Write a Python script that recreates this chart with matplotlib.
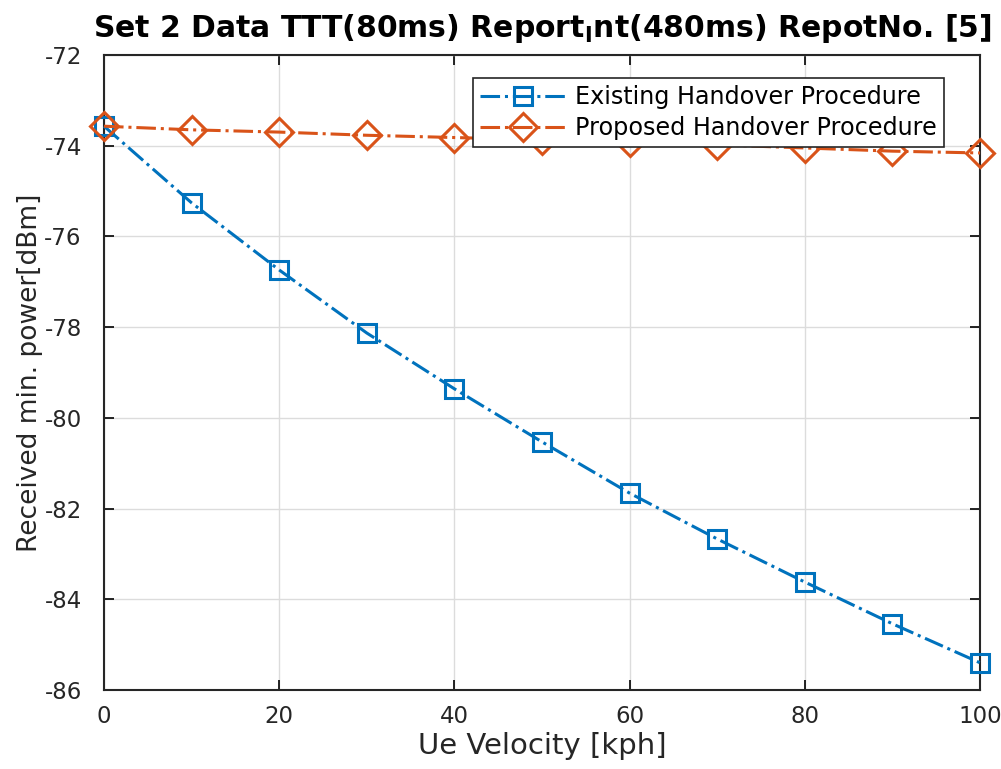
import matplotlib
matplotlib.use("Agg")
import matplotlib.pyplot as plt

velocity = [0, 10, 20, 30, 40, 50, 60, 70, 80, 90, 100]
existing = [-73.57, -75.26, -76.74, -78.13, -79.36, -80.53, -81.66, -82.67, -83.62, -84.54, -85.40]
proposed = [-73.57, -73.65, -73.70, -73.77, -73.82, -73.87, -73.92, -73.98, -74.05, -74.12, -74.16]
xticks = [0, 20, 40, 60, 80, 100]
yticks = [-86, -84, -82, -80, -78, -76, -74, -72]

fig = plt.figure(figsize=(10.01, 7.69), dpi=100)
ax = fig.add_axes([0.1039, 0.1027, 0.8752, 0.8258])

ax.plot(velocity, existing, linestyle='-.', color='#0072BD', linewidth=2.2,
        marker='s', markersize=13, markerfacecolor='none', markeredgewidth=2.2,
        label='Existing Handover Procedure', clip_on=False, zorder=3)
ax.plot(velocity, proposed, linestyle='-.', color='#D95319', linewidth=2.2,
        marker='D', markersize=14, markerfacecolor='none', markeredgewidth=2.2,
        label='Proposed Handover Procedure', clip_on=False, zorder=3)

ax.set_xlim(0, 100)
ax.set_ylim(-86, -72)
ax.set_xticks(xticks)
ax.set_yticks(yticks)
ax.set_xticklabels([str(v) for v in xticks], fontsize=16.5, color='#262626')
ax.set_yticklabels([str(v) for v in yticks], fontsize=16.5, color='#262626')
ax.grid(True, color='#dcdcdc', linewidth=1)
ax.tick_params(direction='in', length=7, width=1.2, top=True, right=True)
ax.tick_params(axis='y', pad=16)
ax.tick_params(axis='x', pad=11)
for s in ax.spines.values():
    s.set_linewidth(1.5)
    s.set_color('#262626')

ax.set_xlabel('Ue Velocity [kph]', fontsize=21, color='#262626', labelpad=3)
ax.set_ylabel('Received min. power[dBm]', fontsize=19, color='#262626', labelpad=1)
ax.set_title(r'Set 2 Data TTT(80ms) Report$_\mathregular{I}$nt(480ms) RepotNo. [5]',
             fontsize=21.5, fontweight='bold', pad=13)

leg = ax.legend(loc='upper right', bbox_to_anchor=(0.959, 0.964), borderaxespad=0,
                fancybox=False, edgecolor='#262626', framealpha=1,
                prop={'size': 17.2}, handlelength=3.6,
                borderpad=0.3, labelspacing=0.3, handletextpad=0.4)
leg.get_frame().set_linewidth(1.2)
leg.set_zorder(5)

fig.savefig('out.png', dpi=100)
